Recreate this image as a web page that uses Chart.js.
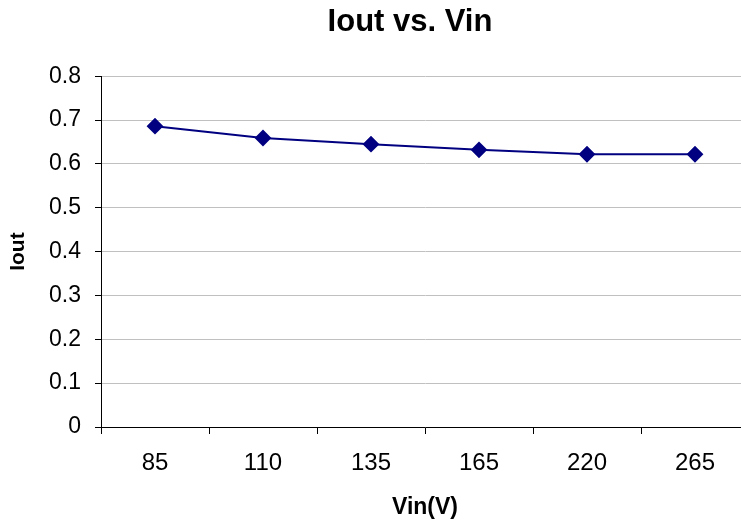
<!DOCTYPE html>
<html>
<head>
<meta charset="utf-8">
<script src="https://cdn.jsdelivr.net/npm/chart.js@4"></script>
<style>
  html, body { margin: 0; padding: 0; background: #fff; overflow: hidden; }
  #wrap { width: 820px; height: 522px; position: relative; }
</style>
</head>
<body>
<div id="wrap"><canvas id="chart"></canvas></div>
<script>
// data
const categories = ['85', '110', '135', '165', '220', '265'];
const ioutValues = [0.686, 0.659, 0.645, 0.632, 0.622, 0.622];
const yTicks = [0, 0.1, 0.2, 0.3, 0.4, 0.5, 0.6, 0.7, 0.8];

const font = "'Liberation Sans', Arial, sans-serif";

const data = {
  labels: categories,
  datasets: [{
    label: 'Iout',
    data: ioutValues,
    yAxisID: 'y',
    borderColor: '#000080',
    backgroundColor: '#000080',
    borderWidth: 2,
    pointStyle: 'rectRot',
    pointRadius: 7,
    pointHoverRadius: 7,
    tension: 0
  }]
};

const config = {
  type: 'line',
  data: data,
  options: {
    responsive: true,
    maintainAspectRatio: false,
    animation: false,
    layout: { padding: 0 },
    plugins: {
      legend: { display: false },
      tooltip: { enabled: false },
      title: {
        display: true,
        text: 'Iout vs. Vin',
        color: '#000',
        font: { family: font, size: 31, weight: 'bold' },
        padding: { top: 4, bottom: 35 }
      }
    },
    scales: {
      x: {
        type: 'category',
        offset: true,
        grid: {
          offset: true,
          drawOnChartArea: false,
          drawTicks: true,
          tickLength: 7,
          color: '#000'
        },
        border: { color: '#000', width: 1 },
        ticks: {
          color: '#000',
          font: { family: font, size: 24 },
          padding: 15,
          maxRotation: 0
        },
        title: {
          display: true,
          text: 'Vin(V)',
          color: '#000',
          font: { family: font, size: 23, weight: 'bold' },
          padding: { top: 0, bottom: 1 }
        },
        afterFit(scale) { scale.height = 95; }
      },
      y: {
        min: 0,
        max: 0.8,
        afterBuildTicks(scale) {
          scale.ticks = yTicks.map(v => ({ value: v }));
        },
        grid: {
          color: '#c0c0c0',
          lineWidth: 1,
          drawTicks: true,
          tickLength: 6,
          tickColor: '#000'
        },
        border: { color: '#000', width: 1 },
        ticks: {
          color: '#000',
          font: { family: font, size: 23 },
          padding: 14,
          callback: v => (v === 0 ? '0' : v.toFixed(1))
        },
        title: {
          display: true,
          text: 'Iout',
          color: '#000',
          font: { family: font, size: 21, weight: 'bold' },
          padding: { top: 6, bottom: 0 }
        },
        afterFit(scale) { scale.width = 101; }
      },
      // empty right-hand spacer so the plot runs past the window edge
      spacer: {
        type: 'linear',
        position: 'right',
        display: true,
        grid: { display: false },
        border: { display: false },
        ticks: { display: false },
        afterFit(scale) { scale.width = 71; }
      }
    }
  }
};

const myChart = new Chart(document.getElementById('chart').getContext('2d'), config);
</script>
</body>
</html>
